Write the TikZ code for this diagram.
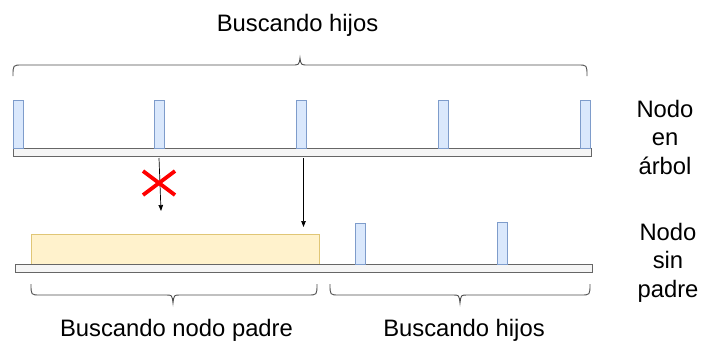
\documentclass[tikz,border=0pt]{standalone}
\usepackage{fontspec}
\setmainfont{Liberation Sans}
\usetikzlibrary{arrows.meta}
\definecolor{bluefill}{HTML}{DAE8FC}
\definecolor{blueline}{HTML}{7E9CCB}
\definecolor{barfill}{HTML}{F5F5F5}
\definecolor{barline}{HTML}{666666}
\definecolor{yelfill}{HTML}{FFF2CC}
\definecolor{yelline}{HTML}{E0C676}
\definecolor{bracecol}{HTML}{4D4D4D}
\begin{document}
\begin{tikzpicture}[x=1pt,y=-1pt,
  rectnode/.style={inner sep=0pt, outer sep=0pt, anchor=north west, line width=0.9pt},
  bluebox/.style={rectnode, draw=blueline, fill=bluefill, minimum width=10pt},
  barbox/.style={rectnode, draw=barline, fill=barfill},
  yelbox/.style={rectnode, draw=yelline, fill=yelfill},
  bracepath/.style={draw=bracecol, line width=0.9pt},
  arr/.style={draw=black, line width=0.7pt, -{Triangle[length=6pt,width=4.5pt]}},
  lbl/.style={font=\fontsize{23.8}{28.5}\selectfont, inner sep=0pt, outer sep=0pt, text=black},
  cross/.style={draw=red, line width=3.8pt}
]
\useasboundingbox (0,0) rectangle (704,343);

% top row
\node[barbox, minimum width=578pt, minimum height=8.5pt] (tbar) at (13,148) {};
\node[bluebox, minimum height=48pt] (t1) at (13,100) {};
\node[bluebox, minimum height=48pt] (t2) at (154.5,100) {};
\node[bluebox, minimum height=48pt] (t3) at (296.5,100) {};
\node[bluebox, minimum height=48pt] (t4) at (438,100) {};
\node[bluebox, minimum height=48pt] (t5) at (580,100) {};

% bottom row
\node[yelbox, minimum width=288pt, minimum height=29.5pt] (yel) at (31,234.5) {};
\node[barbox, minimum width=577pt, minimum height=8pt] (bbar) at (15,264) {};
\node[bluebox, minimum height=41pt] (b1) at (355.5,223) {};
\node[bluebox, minimum height=42pt] (b2) at (497,222) {};

% top brace
\draw[bracepath] (13,76) .. controls (13,65) .. (22,65) -- (292,65)
  .. controls (299,65) .. (300,58) .. controls (301,65) .. (308,65) -- (578,65)
  .. controls (587,65) .. (587,76);

% bottom braces
\draw[bracepath] (31,284) .. controls (31,295) .. (40,295) -- (166,295)
  .. controls (172,295) .. (173,303) .. controls (174,295) .. (180,295) -- (308,295)
  .. controls (317,295) .. (317,284);
\draw[bracepath] (330,284) .. controls (330,295) .. (339,295) -- (453,295)
  .. controls (459,295) .. (460,303) .. controls (461,295) .. (467,295) -- (581,295)
  .. controls (590,295) .. (590,284);

% arrows
\coordinate (a1s) at (159,158);
\coordinate (a1e) at (161,211);
\coordinate (a2s) at (303.5,158);
\coordinate (a2e) at (303.5,227);
\draw[arr] (a1s) -- (a1e);
\draw[arr] (a2s) -- (a2e);

% red cross
\draw[cross] (143,171) -- (175,195) (143,195) -- (175,171);

% labels
\node[lbl, anchor=base] (ltop) at (297.5,31) {Buscando hijos};
\node[lbl, anchor=base] (lbl1) at (176.5,336) {Buscando nodo padre};
\node[lbl, anchor=base] (lbl2) at (464,336) {Buscando hijos};
\node[lbl, anchor=north, align=center] (lr1) at (665,100) {Nodo\\en\\árbol};
\node[lbl, anchor=north, align=center] (lr2) at (668,223) {Nodo\\sin\\padre};
\end{tikzpicture}
\end{document}
